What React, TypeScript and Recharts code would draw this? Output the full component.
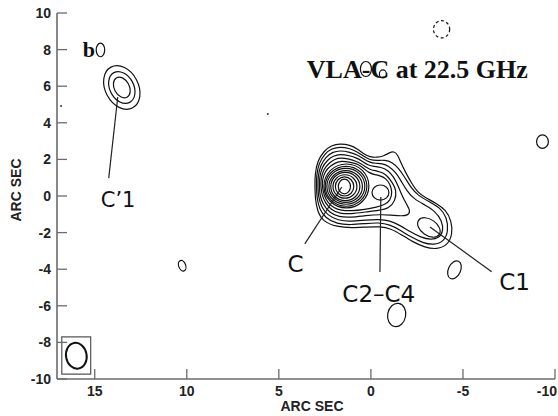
import React from 'react';
import {
  ComposedChart,
  XAxis,
  YAxis,
  Line,
  Scatter,
  ReferenceLine,
  ReferenceArea,
} from 'recharts';

const WIDTH = 558;
const HEIGHT = 416;
const MARGIN = { top: 13, right: 3, bottom: 0, left: 0 };
const Y_AXIS_W = 57;
const X_AXIS_H = 37;

// offsets in arcsec, RA increases to the left
const X_DOMAIN: [number, number] = [-10, 17.05];
const Y_DOMAIN: [number, number] = [-10, 10];
const xTicks = [15, 10, 5, 0, -5, -10];
const yTicks = [-10, -8, -6, -4, -2, 0, 2, 4, 6, 8, 10];

const PX_X = (WIDTH - MARGIN.left - MARGIN.right - Y_AXIS_W) / (X_DOMAIN[1] - X_DOMAIN[0]);
const PX_Y = (HEIGHT - MARGIN.top - MARGIN.bottom - X_AXIS_H) / (Y_DOMAIN[1] - Y_DOMAIN[0]);

// outer contours of the C / C2-C4 / C1 complex, outermost first
const level1 = [
  [1.68, 2.87], [1.14, 2.79], [0.71, 2.57], [0.38, 2.29], [0.05, 2.13], [-0.33, 2.10],
  [-0.71, 2.19], [-0.98, 2.35], [-1.25, 2.46], [-1.47, 2.24], [-1.63, 1.80], [-1.90, 1.26],
  [-2.23, 0.66], [-2.55, 0.19], [-2.93, -0.08], [-3.53, -0.38], [-4.08, -0.77], [-4.38, -1.37],
  [-4.43, -2.08], [-4.18, -2.68], [-3.59, -2.92], [-2.93, -2.81], [-2.28, -2.51], [-1.63, -2.10],
  [-1.09, -1.78], [-0.49, -1.67], [0.22, -1.69], [1.03, -1.75], [1.85, -1.69], [2.61, -1.39],
  [2.91, -0.82], [3.02, -0.16], [3.04, 0.49], [3.04, 1.15], [2.91, 1.91], [2.55, 2.46], [2.15, 2.76],
];
const level2 = [
  [1.68, 2.68], [1.14, 2.60], [0.71, 2.40], [0.38, 2.16], [0.05, 1.97], [-0.33, 1.94],
  [-0.76, 1.97], [-1.14, 1.86], [-1.52, 1.50], [-1.85, 1.01], [-2.17, 0.46], [-2.55, 0.03],
  [-3.15, -0.30], [-3.75, -0.63], [-4.13, -1.17], [-4.21, -1.91], [-3.97, -2.49], [-3.42, -2.68],
  [-2.83, -2.57], [-2.17, -2.24], [-1.58, -1.86], [-1.03, -1.56], [-0.43, -1.45], [0.27, -1.50],
  [1.09, -1.58], [1.85, -1.53], [2.47, -1.20], [2.80, -0.71], [2.93, -0.11], [2.96, 0.49],
  [2.96, 1.09], [2.83, 1.80], [2.50, 2.32], [2.12, 2.60],
];
const level3 = [
  [1.68, 2.49], [1.14, 2.40], [0.71, 2.24], [0.38, 2.02], [0.05, 1.83], [-0.27, 1.78],
  [-0.60, 1.78], [-0.98, 1.64], [-1.36, 1.28], [-1.66, 0.79], [-1.96, 0.27], [-2.34, -0.16],
  [-2.93, -0.49], [-3.48, -0.82], [-3.86, -1.34], [-3.94, -1.91], [-3.72, -2.29], [-3.26, -2.40],
  [-2.72, -2.27], [-2.12, -1.94], [-1.58, -1.61], [-1.03, -1.34], [-0.43, -1.28], [0.27, -1.31],
  [1.09, -1.39], [1.79, -1.34], [2.36, -1.04], [2.69, -0.60], [2.85, -0.05], [2.88, 0.49],
  [2.88, 1.04], [2.74, 1.69], [2.45, 2.13], [2.09, 2.40],
];
const level4 = [
  [1.66, 2.29], [1.17, 2.21], [0.76, 2.08], [0.46, 1.89], [0.16, 1.69], [-0.16, 1.61],
  [-0.54, 1.58], [-0.92, 1.42], [-1.25, 1.04], [-1.49, 0.52], [-1.71, -0.03], [-1.96, -0.49],
  [-2.15, -0.82], [-2.01, -1.07], [-1.63, -1.09], [-1.09, -1.04], [-0.49, -1.01], [0.27, -1.07],
  [1.09, -1.17], [1.74, -1.15], [2.26, -0.90], [2.58, -0.49], [2.77, 0.0], [2.80, 0.49],
  [2.80, 0.98], [2.66, 1.58], [2.36, 1.97], [2.04, 2.19],
];
const level5 = [
  [1.63, 2.10], [1.17, 2.02], [0.82, 1.91], [0.52, 1.75], [0.24, 1.56], [0.0, 1.42],
  [-0.33, 1.37], [-0.65, 1.28], [-0.95, 1.04], [-1.17, 0.71], [-1.39, 0.33], [-1.33, -0.27],
  [-0.98, -0.68], [-0.43, -0.79], [0.27, -0.87], [1.09, -0.98], [1.68, -0.96], [2.15, -0.77],
  [2.47, -0.38], [2.66, 0.05], [2.72, 0.49], [2.72, 0.93], [2.58, 1.45], [2.28, 1.80], [1.96, 2.02],
];
const level6 = [
  [1.60, 1.91], [1.17, 1.86], [0.82, 1.78], [0.54, 1.64], [0.33, 1.45], [0.11, 1.28],
  [-0.16, 1.17], [-0.49, 1.12], [-0.82, 0.96], [-1.03, 0.66], [-1.17, 0.22], [-1.06, -0.25],
  [-0.73, -0.49], [-0.33, -0.60], [0.33, -0.74], [1.09, -0.82], [1.63, -0.79], [2.01, -0.66],
  [2.34, -0.36], [2.55, 0.03], [2.64, 0.49], [2.64, 0.87], [2.50, 1.34], [2.20, 1.64], [1.90, 1.83],
];
const envelopes = [level1, level2, level3, level4, level5, level6];

// elliptical contours: centre, semi-axes (arcsec), tilt on screen (deg)
const peaks = [
  // C'1
  { x: 13.53, y: 5.93, rx: 0.90, ry: 1.26, angle: -28 },
  { x: 13.53, y: 5.93, rx: 0.65, ry: 0.92, angle: -28 },
  { x: 13.53, y: 5.93, rx: 0.41, ry: 0.60, angle: -28 },
  // C core
  { x: 1.33, y: 0.55, rx: 1.22, ry: 1.20, angle: 0 },
  { x: 1.35, y: 0.53, rx: 1.13, ry: 1.09, angle: 0 },
  { x: 1.36, y: 0.53, rx: 1.03, ry: 0.98, angle: 0 },
  { x: 1.37, y: 0.52, rx: 0.91, ry: 0.87, angle: 0 },
  { x: 1.39, y: 0.52, rx: 0.79, ry: 0.77, angle: 0 },
  { x: 1.41, y: 0.52, rx: 0.65, ry: 0.64, angle: 0 },
  { x: 1.43, y: 0.52, rx: 0.50, ry: 0.52, angle: 0 },
  { x: 1.44, y: 0.52, rx: 0.33, ry: 0.40, angle: 0 },
  // C2-C4
  { x: -0.52, y: 0.19, rx: 0.46, ry: 0.41, angle: 0 },
  // C1
  { x: -3.15, y: -1.72, rx: 0.68, ry: 0.44, angle: 35 },
];

const islands = [
  { x: 14.69, y: 7.98, rx: 0.23, ry: 0.37, angle: 0 },
  { x: 0.27, y: 6.94, rx: 0.30, ry: 0.41, angle: 0 },
  { x: -0.65, y: 6.67, rx: 0.19, ry: 0.22, angle: 0 },
  { x: -9.32, y: 2.97, rx: 0.32, ry: 0.37, angle: 0 },
  { x: 10.25, y: -3.81, rx: 0.19, ry: 0.30, angle: -20 },
  { x: -4.54, y: -4.04, rx: 0.33, ry: 0.52, angle: 25 },
  { x: -1.40, y: -6.50, rx: 0.49, ry: 0.64, angle: 10 },
  { x: -3.84, y: 9.11, rx: 0.44, ry: 0.47, angle: 0, dashed: true },
];

const specks = [
  { x: 16.83, y: 4.92 },
  { x: 5.60, y: 4.48 },
];

const beam = [{ x: 16.0, y: -8.73, rx: 0.56, ry: 0.71, angle: -10 }];
const beamBox = { x1: 16.79, x2: 15.22, y1: -9.73, y2: -7.70 };

const leaders = [
  { from: { x: 13.75, y: 5.41 }, to: { x: 14.24, y: 0.98 } },
  { from: { x: 1.58, y: 0.49 }, to: { x: 3.59, y: -2.62 } },
  { from: { x: -0.54, y: -0.05 }, to: { x: -0.49, y: -4.15 } },
  { from: { x: -3.21, y: -1.69 }, to: { x: -6.56, y: -4.14 } },
];

const componentLabels = [
  { x: 13.73, y: -0.60, text: 'C\u20191', size: 21 },
  { x: 4.10, y: -4.15, text: 'C', size: 23 },
  { x: -0.43, y: -5.79, text: 'C2\u2013C4', size: 23 },
  { x: -7.80, y: -5.14, text: 'C1', size: 23 },
];

const headings = [
  { x: 3.48, y: 6.45, text: 'VLA-C at 22.5 GHz', size: 26 },
  { x: 15.65, y: 7.60, text: 'b', size: 22 },
];

const INK = '#111';
const FRAME = '#6b6b6b';
const tickFont = {
  fontFamily: '"Liberation Sans Narrow", "Liberation Sans", Arial, sans-serif',
  fontWeight: 700,
  fontSize: 14,
  fill: '#222',
};

const toRows = (pts: number[][]) => pts.map(([x, y]) => ({ x, y }));

// keeps the last bottom tick label inside the svg
const XTick = (props: any) => {
  const { x, y, payload } = props;
  const clipped = x + 10 > WIDTH;
  return (
    <text
      x={clipped ? WIDTH - 1 : x}
      y={y}
      dy="0.75em"
      textAnchor={clipped ? 'end' : 'middle'}
      style={tickFont}
    >
      {payload.value}
    </text>
  );
};

const EllipseMark = (props: any) => {
  const { cx, cy, payload } = props;
  return (
    <ellipse
      cx={cx}
      cy={cy}
      rx={payload.rx * PX_X}
      ry={payload.ry * PX_Y}
      transform={`rotate(${payload.angle} ${cx} ${cy})`}
      fill="none"
      stroke={INK}
      strokeWidth={1.2}
      strokeDasharray={payload.dashed ? '3 2.5' : undefined}
    />
  );
};

const BeamMark = (props: any) => {
  const { cx, cy, payload } = props;
  return (
    <ellipse
      cx={cx}
      cy={cy}
      rx={payload.rx * PX_X}
      ry={payload.ry * PX_Y}
      transform={`rotate(${payload.angle} ${cx} ${cy})`}
      fill="none"
      stroke={INK}
      strokeWidth={2}
    />
  );
};

const SpeckMark = (props: any) => <circle cx={props.cx} cy={props.cy} r={1} fill="#333" />;

const ComponentText = (props: any) => (
  <text
    x={props.cx}
    y={props.cy}
    textAnchor="middle"
    fontFamily='"DejaVu Sans", sans-serif'
    fontSize={props.payload.size}
    fill={INK}
  >
    {props.payload.text}
  </text>
);

const HeadingText = (props: any) => (
  <text
    x={props.cx}
    y={props.cy}
    textAnchor="start"
    fontFamily='"Liberation Serif", "Times New Roman", serif'
    fontWeight={700}
    fontSize={props.payload.size}
    fill={INK}
  >
    {props.payload.text}
  </text>
);

export default function App() {
  return (
    <div style={{ position: 'absolute', left: 0, top: 0, width: WIDTH, height: HEIGHT, background: '#fff' }}>
      <ComposedChart width={WIDTH} height={HEIGHT} margin={MARGIN}>
        <XAxis
          type="number"
          dataKey="x"
          domain={X_DOMAIN}
          reversed
          allowDataOverflow
          ticks={xTicks}
          interval={0}
          height={X_AXIS_H}
          tickSize={-10}
          tickMargin={16}
          axisLine={{ stroke: FRAME, strokeWidth: 1.6 }}
          tickLine={{ stroke: FRAME, strokeWidth: 1.3 }}
          tick={<XTick />}
          label={{
            value: 'ARC SEC',
            position: 'insideBottom',
            offset: 5,
            dx: 6,
            style: tickFont,
          }}
        />
        <XAxis
          xAxisId="top"
          orientation="top"
          type="number"
          domain={X_DOMAIN}
          reversed
          allowDataOverflow
          ticks={xTicks}
          interval={0}
          height={0}
          tickSize={-10}
          tick={false}
          axisLine={{ stroke: FRAME, strokeWidth: 1.6 }}
          tickLine={{ stroke: FRAME, strokeWidth: 1.3 }}
        />
        <YAxis
          type="number"
          dataKey="y"
          domain={Y_DOMAIN}
          allowDataOverflow
          ticks={yTicks}
          interval={0}
          width={Y_AXIS_W}
          tickSize={-10}
          tickMargin={16}
          axisLine={{ stroke: FRAME, strokeWidth: 1.6 }}
          tickLine={{ stroke: FRAME, strokeWidth: 1.3 }}
          tick={tickFont}
        />
        <YAxis
          yAxisId="right"
          orientation="right"
          type="number"
          domain={Y_DOMAIN}
          allowDataOverflow
          ticks={yTicks}
          interval={0}
          width={0}
          tickSize={-10}
          tick={false}
          axisLine={{ stroke: FRAME, strokeWidth: 1.6 }}
          tickLine={{ stroke: FRAME, strokeWidth: 1.3 }}
        />

        {envelopes.map((lvl, i) => (
          <Line
            key={`lvl${i}`}
            data={toRows(lvl)}
            dataKey="y"
            type="basisClosed"
            stroke={INK}
            strokeWidth={1.2}
            dot={false}
            activeDot={false}
            isAnimationActive={false}
          />
        ))}

        <Scatter data={peaks} shape={EllipseMark} isAnimationActive={false} />
        <Scatter data={islands} shape={EllipseMark} isAnimationActive={false} />
        <Scatter data={specks} shape={SpeckMark} isAnimationActive={false} />
        <Scatter data={beam} shape={BeamMark} isAnimationActive={false} />

        <ReferenceArea
          x1={beamBox.x1}
          x2={beamBox.x2}
          y1={beamBox.y1}
          y2={beamBox.y2}
          fill="none"
          stroke="#555"
          strokeWidth={1.2}
        />

        {leaders.map((l, i) => (
          <ReferenceLine
            key={`lead${i}`}
            segment={[l.from, l.to]}
            stroke="#222"
            strokeWidth={1.2}
          />
        ))}

        <Scatter data={componentLabels} shape={ComponentText} isAnimationActive={false} />
        <Scatter data={headings} shape={HeadingText} isAnimationActive={false} />
      </ComposedChart>
      <svg
        width={30}
        height={HEIGHT}
        style={{ position: 'absolute', left: 0, top: 0, pointerEvents: 'none' }}
      >
        <text
          x={21}
          y={190}
          transform="rotate(-90 21 190)"
          textAnchor="middle"
          style={tickFont}
        >
          ARC SEC
        </text>
      </svg>
    </div>
  );
}
